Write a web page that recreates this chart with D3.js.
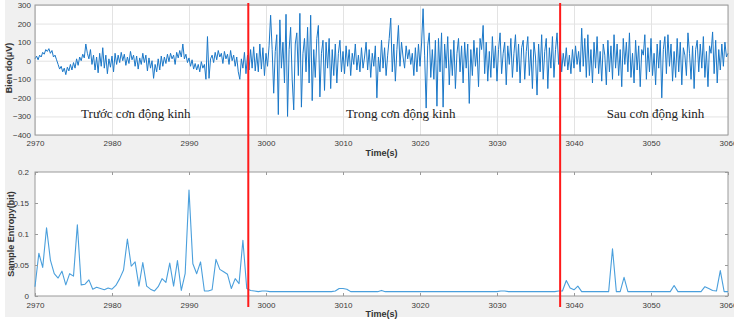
<!DOCTYPE html>
<html>
<head>
<meta charset="utf-8">
<script src="https://cdn.jsdelivr.net/npm/d3@7"></script>
<style>
  body { margin: 0; background: #fff; }
  svg { display: block; }
  .tick text { font-family: "Liberation Sans", Arial, sans-serif; font-size: 8px; fill: #3a3a3a; }
  .axis path, .axis line { stroke: #9a9a9a; }
  .grid line { stroke: #e3e3e3; }
  .grid path { stroke: none; }
</style>
</head>
<body>
<div id="chart"></div>
<script>
// EEG signal, 5 samples per second from 2970 s
const eegStart = 2970;
const eegStep = 0.2;
const eegValues = [
  10, 25, 5, 30, 20,   45, 35, 60, 50, 65,   40, 55, 20, 30, 5,   -20, -45, -30, -60, -40,   -75, -35, -55, -20, -50,
  -10, -40, 10, -25, 20,   0, 35, 15, 90, 40,   10, 60, -20, 30, -50,   20, -65, 40, -30, 70,   -40, 30, -70, 10, -35,
  25, -60, 40, -20, 30,   -10, 45, 0, 35, -25,   20, -15, 50, 5, 30,   -30, 25, -45, 15, -20,   40, -10, 30, -55, 15,
  -40, 0, -95, -20, -60,   10, -50, 25, -30, 20,   -15, 35, -5, 40, 10,   30, -20, 45, 15, 55,   20, 90, 10, 35, -10,
  15, -30, 5, -45, -15,   -50, -20, -60, -5, -40,   -20, -100, 130, -95, 10,   30, -10, 45, 5, 55,   20, 40, -15, 50, 10,
  35, -20, 55, 0, 30,   -30, 20, -60, -100, 10,   -40, 45, -70, 30, -50,   60, -40, 75, -55, 40,   -60, 90, -45, 70, -80,
  40, -30, 80, 245, 60,   -175, 50, 140, -290, 220,   -40, 100, -120, 250, -300,   60, 180, -100, -265, 90,   150, -80, 255, -250, 40,
  120, -60, 180, -120, 245,   -215, 60, -90, 120, 190,   -195, 40, 110, -160, 100,   -40, 120, -150, 60, -80,   90, -120, 40, 110, -60,
  50, -70, 80, -30, 60,   -80, 40, -20, 90, -50,   30, -60, 70, -40, 20,   100, -50, 60, -90, 40,   -30, 80, -200, 20, -60,
  110, -40, 70, -80, 30,   120, 230, -60, 90, -110,   60, 190, -30, 100, 20,   -40, 80, 10, 60, -20,   40, -80, 70, -60, 90,
  -30, 90, 280, 30, -255,   80, 150, -90, 60, -100,   110, -245, 120, -60, 150,   -250, 90, -40, 130, -130,   60, -80, 110, -150, 40,
  120, -60, 80, -120, 100,   -40, 90, -230, 60, -80,   110, -30, 70, -140, 120,   60, 190, -70, 100, -110,   50, -90, 130, -40, 80,
  -110, 60, 150, -70, 40,   100, -130, 80, -20, 120,   -90, 40, 140, -60, 90,   -120, 70, 110, -100, 50,   130, -80, 60, -150, 100,
  20, -185, 90, -60, 140,   -100, 50, 120, -150, 70,   -40, 130, -90, 60, 150,   -20, 100, -60, 40, -30,   70, -50, 30, -70, 60,
  -40, 80, -20, 50, -60,   175, -30, 120, -90, 140,   -80, 60, -120, 100, -40,   130, -70, 50, -110, 90,   30, -130, 110, -60, 80,
  -100, 140, -40, 90, -80,   60, -140, 120, -20, 100,   -60, 150, -90, 40, -120,   110, -50, 80, -140, 60,   30, 140, -100, 70, -60,
  120, -80, 40, -130, 90,   -40, 110, -200, 60, 130,   -70, 140, -30, 90, -110,   50, -90, 120, -60, 100,   -130, 70, 30, -80, 150,
  40, -100, 80, -150, 60,   110, -60, 90, -40, 130,   -90, 50, -140, 80, 40,   155, -70, 110, -120, 60,   -50, 90, -30, 100, 20,
  40
];

// sample entropy, one value every 0.5 s from 2970 s
const entStart = 2970;
const entStep = 0.5;
const entValues = [
  0.015, 0.069, 0.046, 0.110, 0.058, 0.036, 0.029, 0.040, 0.018, 0.036,
  0.032, 0.115, 0.018, 0.019, 0.026, 0.011, 0.014, 0.012, 0.010, 0.013,
  0.011, 0.017, 0.028, 0.042, 0.092, 0.048, 0.055, 0.016, 0.054, 0.016,
  0.011, 0.008, 0.015, 0.028, 0.022, 0.053, 0.016, 0.057, 0.009, 0.036,
  0.171, 0.052, 0.036, 0.055, 0.008, 0.008, 0.010, 0.059, 0.043, 0.039,
  0.035, 0.012, 0.028, 0.020, 0.090, 0.012,
  0.009, 0.008, 0.007, 0.008, 0.008, 0.007, 0.007, 0.007, 0.007, 0.007,
  0.007, 0.007, 0.007, 0.007, 0.007, 0.007, 0.007, 0.007, 0.007, 0.007,
  0.007, 0.007, 0.008, 0.012, 0.012, 0.011, 0.007, 0.007, 0.007, 0.007,
  0.007, 0.007, 0.007, 0.007, 0.009, 0.007, 0.007, 0.007, 0.007, 0.007,
  0.007, 0.007, 0.007, 0.007, 0.007, 0.007, 0.007, 0.007, 0.007, 0.007,
  0.007, 0.007, 0.007, 0.007, 0.007, 0.007, 0.007, 0.007, 0.007, 0.007,
  0.007, 0.007, 0.007, 0.007, 0.007, 0.008, 0.008, 0.007, 0.007, 0.007,
  0.007, 0.007, 0.007, 0.007, 0.007, 0.007, 0.007, 0.007, 0.007, 0.007,
  0.008, 0.008, 0.025, 0.013, 0.010, 0.016, 0.007, 0.007, 0.007, 0.007,
  0.007, 0.007, 0.007, 0.007, 0.076, 0.007, 0.007, 0.030, 0.007, 0.007,
  0.007, 0.007, 0.007, 0.007, 0.007, 0.007, 0.007, 0.007, 0.007, 0.007,
  0.017, 0.007, 0.007, 0.007, 0.007, 0.007, 0.007, 0.007, 0.015, 0.012,
  0.009, 0.008, 0.041, 0.007, 0.007
];

const timeTicks = [2970, 2980, 2990, 3000, 3010, 3020, 3030, 3040, 3050, 3060];
const ampTicks = [300, 200, 100, 0, -100, -200, -300, -400];
const entTicks = [0, 0.05, 0.1, 0.15, 0.2];
const entTickLabels = ['0', '0.05', '0.1', '0.15', '0.2'];
const boundaries = [2997.7, 3038.2];
const phaseLabels = ['Trước cơn động kinh', 'Trong cơn động kinh', 'Sau cơn động kinh'];
const phaseCenters = [2983.1, 3017.5, 3050.6];

const width = 734, height = 321;
const left = 35, right = 728;

const svg = d3.select('#chart').append('svg')
  .attr('width', width)
  .attr('height', height);

svg.append('rect')
  .attr('x', 5).attr('y', 0)
  .attr('width', width - 5).attr('height', 317)
  .attr('fill', '#f0f0f0');

const x = d3.scaleLinear().domain([2970, 3060]).range([left, right]);

// ---- top panel: amplitude ----
const topY = d3.scaleLinear().domain([-400, 300]).range([135, 5]);

svg.append('rect')
  .attr('x', left).attr('y', 5)
  .attr('width', right - left).attr('height', 130)
  .attr('fill', '#fff');

svg.append('g')
  .attr('class', 'grid')
  .attr('transform', 'translate(0,135)')
  .call(d3.axisBottom(x).tickValues(timeTicks).tickSize(-130).tickFormat(''));

svg.append('g')
  .attr('class', 'grid')
  .attr('transform', 'translate(' + left + ',0)')
  .call(d3.axisLeft(topY).tickValues(ampTicks).tickSize(-(right - left)).tickFormat(''));

const eegLine = d3.line()
  .x((d, i) => x(eegStart + i * eegStep))
  .y(d => topY(d));

svg.append('path')
  .datum(eegValues)
  .attr('d', eegLine)
  .attr('fill', 'none')
  .attr('stroke', '#1b78c8')
  .attr('stroke-width', 1)
  .attr('stroke-linejoin', 'round');

svg.append('rect')
  .attr('x', left).attr('y', 5)
  .attr('width', right - left).attr('height', 130)
  .attr('fill', 'none')
  .attr('stroke', '#9a9a9a');

svg.append('g')
  .attr('class', 'axis')
  .attr('transform', 'translate(0,135)')
  .call(d3.axisBottom(x).tickValues(timeTicks).tickSize(0).tickPadding(5).tickFormat(d3.format('d')))
  .call(g => g.select('.domain').remove());

svg.append('g')
  .attr('class', 'axis')
  .attr('transform', 'translate(' + left + ',0)')
  .call(d3.axisLeft(topY).tickValues(ampTicks).tickSize(0).tickPadding(4))
  .call(g => g.select('.domain').remove());

svg.append('text')
  .attr('x', (left + right) / 2).attr('y', 156)
  .attr('text-anchor', 'middle')
  .attr('font-family', '"Liberation Sans", Arial, sans-serif')
  .attr('font-size', 9).attr('font-weight', 'bold').attr('fill', '#333')
  .text('Time(s)');

svg.append('text')
  .attr('transform', 'translate(12,68) rotate(-90)')
  .attr('text-anchor', 'middle')
  .attr('font-family', '"Liberation Sans", Arial, sans-serif')
  .attr('font-size', 9).attr('font-weight', 'bold').attr('fill', '#333')
  .text('Bien do(μV)');

svg.selectAll('.phase')
  .data(phaseLabels)
  .enter().append('text')
  .attr('class', 'phase')
  .attr('x', (d, i) => x(phaseCenters[i]))
  .attr('y', topY(-310))
  .attr('text-anchor', 'middle')
  .attr('font-family', '"Liberation Serif", "Times New Roman", serif')
  .attr('font-size', 13).attr('fill', '#222')
  .text(d => d);

// ---- bottom panel: sample entropy ----
const botY = d3.scaleLinear().domain([0, 0.2]).range([296, 172]);

svg.append('rect')
  .attr('x', left).attr('y', 172)
  .attr('width', right - left).attr('height', 124)
  .attr('fill', '#fff')
  .attr('stroke', '#9a9a9a');

const entLine = d3.line()
  .x((d, i) => x(entStart + i * entStep))
  .y(d => botY(d));

svg.append('path')
  .datum(entValues)
  .attr('d', entLine)
  .attr('fill', 'none')
  .attr('stroke', '#4a9fdc')
  .attr('stroke-width', 1.1)
  .attr('stroke-linejoin', 'round');

svg.append('g')
  .attr('class', 'axis')
  .attr('transform', 'translate(0,296)')
  .call(d3.axisBottom(x).tickValues(timeTicks).tickSizeInner(-3).tickSizeOuter(0).tickPadding(6).tickFormat(d3.format('d')))
  .call(g => g.select('.domain').remove());

svg.append('g')
  .attr('class', 'axis')
  .attr('transform', 'translate(0,172)')
  .call(d3.axisTop(x).tickValues(timeTicks).tickSizeInner(-3).tickSizeOuter(0).tickFormat(''))
  .call(g => g.select('.domain').remove());

svg.append('g')
  .attr('class', 'axis')
  .attr('transform', 'translate(' + left + ',0)')
  .call(d3.axisLeft(botY).tickValues(entTicks).tickSizeInner(-3).tickSizeOuter(0).tickPadding(6)
    .tickFormat((d, i) => entTickLabels[i]))
  .call(g => g.select('.domain').remove());

svg.append('g')
  .attr('class', 'axis')
  .attr('transform', 'translate(' + right + ',0)')
  .call(d3.axisRight(botY).tickValues(entTicks).tickSizeInner(-3).tickSizeOuter(0).tickFormat(''))
  .call(g => g.select('.domain').remove());

svg.append('text')
  .attr('x', (left + right) / 2).attr('y', 317)
  .attr('text-anchor', 'middle')
  .attr('font-family', '"Liberation Sans", Arial, sans-serif')
  .attr('font-size', 9).attr('font-weight', 'bold').attr('fill', '#333')
  .text('Time(s)');

svg.append('text')
  .attr('transform', 'translate(14,234) rotate(-90)')
  .attr('text-anchor', 'middle')
  .attr('font-family', '"Liberation Sans", Arial, sans-serif')
  .attr('font-size', 9).attr('font-weight', 'bold').attr('fill', '#333')
  .text('Sample Entropy(bit)');

// ---- phase boundaries ----
svg.selectAll('.boundary')
  .data(boundaries)
  .enter().append('line')
  .attr('class', 'boundary')
  .attr('x1', d => x(d)).attr('x2', d => x(d))
  .attr('y1', 3).attr('y2', 307)
  .attr('stroke', '#ff1a1a')
  .attr('stroke-width', 2);
</script>
</body>
</html>
